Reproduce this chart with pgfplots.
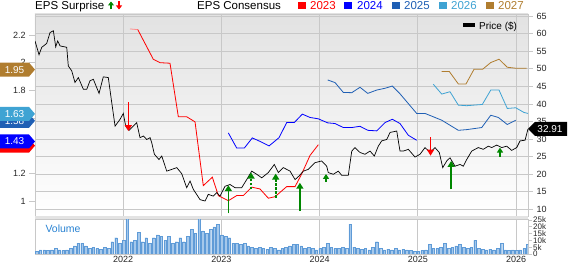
\documentclass[border=0pt]{standalone}
\usepackage{fontspec}
\setmainfont{Liberation Sans}
\usepackage{pgfplots}
\pgfplotsset{compat=1.18}
\usetikzlibrary{arrows.meta}
\definecolor{cA}{RGB}{255,0,0}
\definecolor{cB}{RGB}{0,0,255}
\definecolor{cC}{RGB}{31,95,180}
\definecolor{cD}{RGB}{63,163,211}
\definecolor{cE}{RGB}{176,125,47}
\definecolor{gridc}{RGB}{200,200,200}
\definecolor{bggray}{RGB}{226,226,226}
\definecolor{volfill}{RGB}{165,200,235}
\definecolor{voledge}{RGB}{95,155,215}
\definecolor{volc}{RGB}{40,130,210}
\definecolor{upg}{RGB}{0,135,0}
\begin{document}
\begin{tikzpicture}
\useasboundingbox (0pt,0pt) rectangle (568pt,264pt);
\pgfplotsset{
 base/.style={scale only axis, width=493pt, xmin=2021.104, xmax=2026.122,
   /pgf/number format/assume math mode=true,
   tick label style={font=\fontsize{9}{10}\selectfont, text=black!85},
 },
}
% background, grid, right price ticks
\begin{axis}[base, at={(35pt,48pt)}, anchor=south west, height=202pt,
 ymin=8.15, ymax=65.57,
 axis background/.style={top color=bggray, middle color=white!97!black, bottom color=white},
 xtick={2022,2023,2024,2025,2026}, xticklabels={}, xtick style={draw=none},
 xmajorgrids, ymajorgrids, ytick={10,15,...,65},
 grid style={gridc, line width=0.8pt},
 axis line style={gridc, line width=0.8pt},
 ytick pos=right, ytick style={gridc, line width=0.8pt},
 tick align=outside, major tick length=5pt,
]
\end{axis}
% EPS consensus (left axis)
\begin{axis}[base, at={(35pt,48pt)}, anchor=south west, height=202pt,
 ymin=0.8915, ymax=2.352,
 axis x line=none, axis y line*=left,
 ytick={1,1.2,1.4,1.6,1.8,2,2.2}, yticklabels={1,1.2,1.4,1.6,1.8,2,2.2},
 axis line style={gridc, line width=0.8pt}, ytick style={gridc, line width=0.8pt},
 tick align=outside, major tick length=6pt,
]
\addplot[cA!45, line width=0.8pt] coordinates {(2022.071,2.244)(2022.150,2.239)};
\addplot[cA, line width=0.8pt] coordinates {(2022.150,2.239)(2022.308,2.025)(2022.377,2.0)(2022.478,1.996)
 (2022.563,1.609)(2022.648,1.609)(2022.733,1.572)(2022.817,1.111)(2022.909,1.172)(2022.970,1.039)
 (2023.072,1.002)(2023.157,1.039)(2023.224,1.039)(2023.310,1.100)(2023.394,1.087)(2023.479,1.020)
 (2023.547,1.031)(2023.666,1.104)(2023.751,1.104)(2023.819,1.196)(2023.903,1.329)(2023.988,1.407)};
\addplot[cB, line width=0.8pt] coordinates {(2023.072,1.492)(2023.157,1.383)(2023.235,1.383)(2023.316,1.456)
 (2023.394,1.431)(2023.486,1.398)(2023.588,1.458)(2023.666,1.567)(2023.743,1.567)(2023.825,1.628)
 (2023.903,1.604)(2023.988,1.594)(2024.083,1.565)(2024.158,1.560)(2024.242,1.531)(2024.328,1.531)
 (2024.412,1.540)(2024.491,1.511)(2024.582,1.507)(2024.667,1.567)(2024.741,1.591)(2024.819,1.560)
 (2024.904,1.475)(2024.989,1.439)};
\addplot[cC, line width=0.8pt] coordinates {(2024.083,1.875)(2024.158,1.856)(2024.242,1.785)(2024.328,1.783)
 (2024.412,1.822)(2024.491,1.778)(2024.582,1.802)(2024.667,1.815)(2024.741,1.831)(2024.819,1.775)
 (2024.989,1.633)(2025.074,1.633)(2025.244,1.584)(2025.413,1.511)(2025.498,1.516)(2025.651,1.531)
 (2025.743,1.620)(2025.820,1.604)(2025.911,1.553)(2025.997,1.584)};
\addplot[cD, line width=0.8pt] coordinates {(2025.158,1.844)(2025.244,1.773)(2025.328,1.790)(2025.413,1.693)
 (2025.498,1.689)(2025.657,1.698)(2025.743,1.802)(2025.827,1.802)(2025.911,1.669)(2025.997,1.674)
 (2026.081,1.640)(2026.122,1.633)};
\addplot[cE, line width=0.8pt] coordinates {(2025.244,1.936)(2025.321,1.936)(2025.413,1.846)(2025.491,1.846)
 (2025.573,1.953)(2025.661,1.953)(2025.743,2.001)(2025.827,2.025)(2025.911,1.967)(2025.997,1.960)
 (2026.109,1.960)};
\end{axis}
% price and surprises
\begin{axis}[base, at={(35pt,48pt)}, anchor=south west, height=202pt,
 ymin=8.15, ymax=65.57, hide axis]
\addplot[black, line width=0.7pt] coordinates {
(2021.104,57.9)(2021.145,54.0)(2021.173,56.1)(2021.223,57.2)(2021.257,60.3)(2021.291,60.8)
(2021.315,56.2)(2021.335,57.9)(2021.359,56.5)(2021.427,56.1)(2021.443,50.8)(2021.478,49.4)
(2021.511,46.1)(2021.545,47.5)(2021.596,44.2)(2021.631,44.2)(2021.664,46.6)(2021.698,47.0)
(2021.756,43.0)(2021.799,47.7)(2021.850,47.5)(2021.885,40.4)(2021.919,33.7)(2021.969,35.6)
(2022.003,37.3)(2022.027,33.7)(2022.061,32.5)(2022.139,34.7)(2022.173,30.4)(2022.207,30.9)
(2022.241,29.9)(2022.275,30.4)(2022.292,29.0)(2022.319,25.7)(2022.366,24.2)(2022.394,25.2)
(2022.445,20.9)(2022.496,21.4)(2022.547,21.9)(2022.597,20.2)(2022.648,16.2)(2022.682,18.1)
(2022.716,15.7)(2022.784,12.8)(2022.835,12.4)(2022.868,14.3)(2022.919,13.8)(2022.954,14.8)
(2022.987,13.8)(2023.038,16.6)(2023.089,17.1)(2023.140,16.2)(2023.208,16.2)(2023.259,18.5)
(2023.310,20.9)(2023.361,20.0)(2023.412,19.0)(2023.479,20.5)(2023.540,22.8)(2023.581,20.5)
(2023.632,21.9)(2023.700,20.9)(2023.751,18.5)(2023.791,19.5)(2023.835,20.9)(2023.886,21.4)
(2023.954,23.3)(2024.022,23.8)(2024.073,22.3)(2024.089,20.5)(2024.140,20.0)(2024.191,20.9)
(2024.226,19.7)(2024.293,19.7)(2024.328,26.6)(2024.361,27.6)(2024.412,26.2)(2024.463,25.7)
(2024.514,26.6)(2024.558,25.2)(2024.598,28.0)(2024.633,29.5)(2024.684,29.9)(2024.718,31.9)
(2024.786,32.3)(2024.819,26.6)(2024.853,26.6)(2024.904,27.1)(2024.972,24.9)(2025.023,25.7)
(2025.074,27.6)(2025.125,26.2)(2025.175,27.6)(2025.219,26.2)(2025.254,21.9)(2025.295,23.8)
(2025.328,24.7)(2025.379,22.3)(2025.430,22.8)(2025.464,22.3)(2025.498,24.2)(2025.549,26.6)
(2025.616,27.6)(2025.667,27.1)(2025.718,28.0)(2025.753,27.6)(2025.804,28.3)(2025.855,27.6)
(2025.905,28.0)(2025.956,26.8)(2026.007,27.6)(2026.041,29.5)(2026.092,29.7)(2026.122,32.9)};
% surprises
\addplot[cA, line width=1.5pt, -{Triangle[width=7pt,length=6pt]}] coordinates {(2022.054,40.5)(2022.054,32.3)};
\addplot[cA, line width=1.5pt, -{Triangle[width=7pt,length=6pt]}] coordinates {(2025.130,30.5)(2025.130,25.3)};
\addplot[upg, line width=1.6pt, -{Triangle[width=7pt,length=6pt]}] coordinates {(2023.072,8.9)(2023.072,16.9)};
\addplot[upg, line width=1.6pt, dash pattern=on 2.5pt off 1.5pt, -{Triangle[width=7pt,length=6pt]}] coordinates {(2023.303,15.7)(2023.303,20.5)};
\addplot[upg, line width=1.6pt, dash pattern=on 2.5pt off 1.5pt, -{Triangle[width=7pt,length=6pt]}] coordinates {(2023.554,13.3)(2023.554,20.2)};
\addplot[upg, line width=1.6pt, -{Triangle[width=7pt,length=6pt]}] coordinates {(2023.800,9.5)(2023.800,17.6)};
\addplot[upg, line width=1.5pt, -{Triangle[width=6pt,length=5pt]}] coordinates {(2024.066,17.8)(2024.066,20.1)};
\addplot[upg, line width=1.6pt, -{Triangle[width=7pt,length=6pt]}] coordinates {(2025.340,15.7)(2025.340,23.8)};
\addplot[upg, line width=1.5pt, -{Triangle[width=6pt,length=5pt]}] coordinates {(2025.837,25.0)(2025.837,27.6)};
\end{axis}
% volume
\begin{axis}[base, at={(35pt,10pt)}, anchor=south west, height=35pt,
 ymin=0, ymax=25.7, ybar, bar width=2.6pt,
 xtick={2022,2023,2024,2025,2026}, xticklabels={2022,2023,2024,2025,2026},
 xmajorgrids, grid style={gridc, line width=0.8pt}, xtick style={draw=none},
 axis line style={gridc, line width=0.8pt},
 ytick={0,5,10,15,20,25}, yticklabels={0,5k,10k,15k,20k,25k}, ytick pos=right,
 ytick style={gridc, line width=0.6pt}, tick align=outside, major tick length=4pt,
 yticklabel style={font=\fontsize{8}{8}\selectfont, inner sep=1pt},
 xticklabel style={font=\fontsize{9}{9}\selectfont, inner sep=0pt, anchor=north, yshift=2pt},
]
\addplot[fill=volfill, draw=voledge, line width=0.3pt] coordinates {
(2021.120,2)(2021.158,3)(2021.197,3)(2021.235,2.5)(2021.274,3)(2021.312,4)(2021.351,3)(2021.389,2.5)
(2021.428,3)(2021.466,4)(2021.505,6)(2021.543,8)(2021.582,8)(2021.620,6)(2021.658,4)(2021.697,5)
(2021.735,4)(2021.774,3.5)(2021.812,5)(2021.851,4)(2021.889,9)(2021.928,12)(2021.966,8)(2022.005,10)
(2022.043,26)(2022.082,9)(2022.120,10)(2022.158,16)(2022.197,9)(2022.235,12)(2022.274,8)(2022.312,12)
(2022.351,14)(2022.389,13)(2022.428,10)(2022.466,13)(2022.505,8)(2022.543,9)(2022.582,12)(2022.620,9)
(2022.658,13)(2022.697,18)(2022.735,15)(2022.774,26)(2022.812,17)(2022.851,15)(2022.889,18)(2022.928,20)
(2022.966,22)(2023.005,14)(2023.043,13)(2023.082,12)(2023.120,8)(2023.158,8)(2023.197,7)(2023.235,8)
(2023.274,6)(2023.312,5)(2023.351,4)(2023.389,5)(2023.428,4)(2023.466,3.5)(2023.505,5)(2023.543,4)
(2023.582,3)(2023.620,4)(2023.658,5)(2023.697,6)(2023.735,7)(2023.774,7)(2023.812,6)(2023.851,4)
(2023.889,5)(2023.928,4)(2023.966,3)(2024.005,4)(2024.043,5)(2024.082,8)(2024.120,5)(2024.158,4)
(2024.197,4)(2024.235,5)(2024.274,4)(2024.312,22)(2024.351,5)(2024.389,4)(2024.428,3.5)(2024.466,4)
(2024.505,3)(2024.543,5)(2024.582,9)(2024.620,4)(2024.658,3)(2024.697,3.5)(2024.735,3)(2024.774,4)
(2024.812,3)(2024.851,3.5)(2024.889,3)(2024.928,2.5)(2024.966,2)(2025.005,2)(2025.043,2.5)(2025.082,3)
(2025.120,7)(2025.158,4)(2025.197,4)(2025.235,5)(2025.274,8)(2025.312,4)(2025.351,5)(2025.389,6)
(2025.428,7)(2025.466,5)(2025.505,4)(2025.543,5)(2025.582,10)(2025.620,4)(2025.658,3.5)(2025.697,3)
(2025.735,3.5)(2025.774,3)(2025.812,4)(2025.851,8)(2025.889,3)(2025.928,2.5)(2025.966,3)(2026.005,2.5)
(2026.043,3)(2026.082,4)(2026.120,7)};
\end{axis}
\begin{scope}[x=1pt,y=1pt]
% separator strip
\fill[gray!22] (35,45) rectangle (528,48);
\node[anchor=west, text=volc, font=\fontsize{10.5}{12}\selectfont] at (42,35) {Volume};
% top legend
\node[anchor=base west, inner sep=0, font=\fontsize{11.5}{13}\selectfont] at (35,254.5) {EPS Surprise};
\draw[upg, line width=1.5pt, -{Triangle[width=6pt,length=4pt]}] (111,254.5) -- (111,262.5);
\draw[cA, line width=1.5pt, -{Triangle[width=6pt,length=4pt]}] (119,262.5) -- (119,254.5);
\node[anchor=base west, inner sep=0, font=\fontsize{11.5}{13}\selectfont] at (197,254.5) {EPS Consensus};
\fill[cA] (298,255) rectangle (306,262);
\node[anchor=base west, inner sep=0, text=cA, font=\fontsize{11.5}{13}\selectfont] at (310,254.5) {2023};
\fill[cB] (344,255) rectangle (352,262);
\node[anchor=base west, inner sep=0, text=cB, font=\fontsize{11.5}{13}\selectfont] at (357,254.5) {2024};
\fill[cC] (392,255) rectangle (400,262);
\node[anchor=base west, inner sep=0, text=cC, font=\fontsize{11.5}{13}\selectfont] at (404,254.5) {2025};
\fill[cD] (439,255) rectangle (447,262);
\node[anchor=base west, inner sep=0, text=cD, font=\fontsize{11.5}{13}\selectfont] at (451,254.5) {2026};
\fill[cE] (486,255) rectangle (494,262);
\node[anchor=base west, inner sep=0, text=cE, font=\fontsize{11.5}{13}\selectfont] at (498,254.5) {2027};
% price legend
\fill[black] (463,236.7) rectangle (475,241.3);
\node[anchor=base west, inner sep=0, font=\fontsize{10}{12}\selectfont] at (479,234.8) {Price (\$)};
% left tags
\fill[cA] (0,125.3) -- (29,125.3) -- (35,118.3) -- (29,111.3) -- (0,111.3) -- cycle;
\foreach \yc/\col/\txt in {122.5/cB/1.43, 143.2/cC/1.58, 150.1/cD/1.63, 194.4/cE/1.95}{
  \fill[\col] (0,\yc+7) -- (29,\yc+7) -- (35,\yc) -- (29,\yc-7) -- (0,\yc-7) -- cycle;
  \node[text=white, font=\fontsize{10}{12}\selectfont] at (14.5,\yc) {\txt};
}
% right price tag
\fill[black] (528,135.1) -- (535,142.1) -- (567,142.1) -- (567,128.1) -- (535,128.1) -- cycle;
\node[text=white, font=\fontsize{10}{12}\selectfont] at (550,135.1) {32.91};
\end{scope}
\end{tikzpicture}
\end{document}
